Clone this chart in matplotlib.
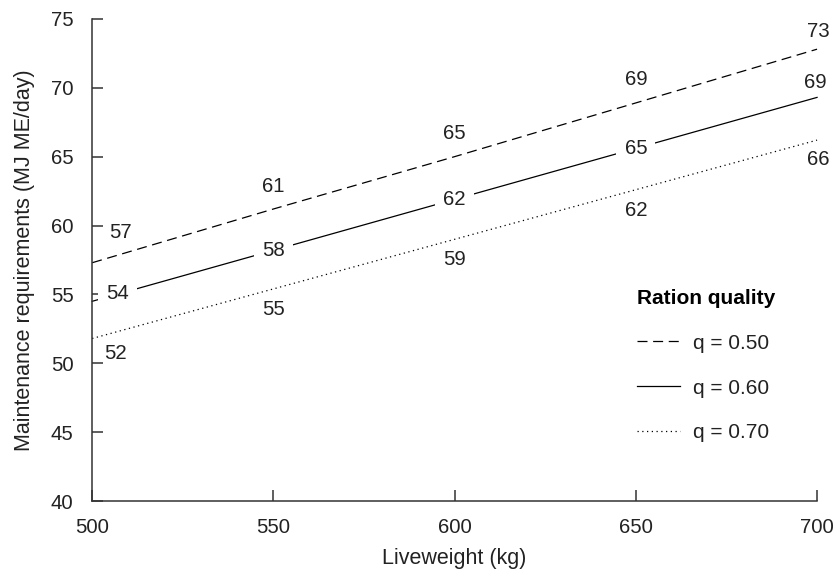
import matplotlib
matplotlib.use('Agg')
import matplotlib.pyplot as plt

# liveweight (kg) and maintenance requirement (MJ ME/day) per ration quality
weights = [500, 550, 600, 650, 700]
req_q50 = [57.3, 61.2, 65.0, 68.9, 72.8]
req_q60 = [54.5, 58.2, 61.9, 65.6, 69.3]
req_q70 = [51.8, 55.4, 59.0, 62.6, 66.2]
labels_q50 = ['57', '61', '65', '69', '73']
labels_q60 = ['54', '58', '62', '65', '69']
labels_q70 = ['52', '55', '59', '62', '66']
legend_names = ['q = 0.50', 'q = 0.60', 'q = 0.70']

plt.rcParams['font.family'] = ['Liberation Sans', 'DejaVu Sans']
plt.rcParams['font.size'] = 15

fig = plt.figure(figsize=(8.38, 5.72), dpi=100)
ax = fig.add_axes([0.110, 0.124, 0.865, 0.843])

ink = '#222222'
ax.plot(weights, req_q50, color='black', lw=0.9, dashes=(8, 4.5), label=legend_names[0], clip_on=False)
ax.plot(weights, req_q60, color='black', lw=0.9, label=legend_names[1], clip_on=False)
ax.plot(weights, req_q70, color='black', lw=0.9, dashes=(1, 2.8), label=legend_names[2], clip_on=False)


def put_labels(ys, texts, dy, first, last, boxed=False):
    # numbers written next to (or on) each line
    for i, (x, y, t) in enumerate(zip(weights, ys, texts)):
        off = (0, dy)
        if i == 0:
            off = first
        elif i == len(texts) - 1:
            off = last
        kw = {}
        if boxed and i < len(texts) - 1:
            kw['bbox'] = dict(boxstyle='square,pad=0.4', fc='white', ec='none')
        ax.annotate(t, (x, y), xytext=off, textcoords='offset points',
                    ha='center', va='center', fontsize=14.7, color=ink,
                    zorder=3, annotation_clip=False, **kw)


put_labels(req_q50, labels_q50, 16.5, (20, 21.5), (1, 12.7))
put_labels(req_q60, labels_q60, 0, (18, 5.5), (-1, 10.6), boxed=True)
put_labels(req_q70, labels_q70, -14.8, (16.6, -10.8), (1, -13.6))

ax.set_xlim(500, 700)
ax.set_ylim(40, 75)
ax.set_xticks(weights)
ax.set_yticks(range(40, 76, 5))

for side in ['top', 'right']:
    ax.spines[side].set_visible(False)
for side in ['left', 'bottom']:
    ax.spines[side].set_color('#333333')
    ax.spines[side].set_linewidth(1.1)

ax.tick_params(direction='in', length=7.7, width=1.1, color='#333333',
               labelsize=14.7, labelcolor=ink)
ax.tick_params(axis='y', pad=13.5)
ax.tick_params(axis='x', pad=12)

ax.set_xlabel('Liveweight (kg)', fontsize=15.5, color=ink, labelpad=8)
ax.set_ylabel('Maintenance requirements (MJ ME/day)', fontsize=15.5, color=ink, labelpad=11)

ax.legend(title='Ration quality', title_fontproperties={'weight': 'bold', 'size': 15},
          alignment='left', frameon=False, loc='upper left', bbox_to_anchor=(0.752, 0.440),
          borderpad=0, borderaxespad=0, handlelength=2.07, handletextpad=0.62,
          labelspacing=1.24, fontsize=15, labelcolor=ink)

fig.savefig('out.png', dpi=100)
